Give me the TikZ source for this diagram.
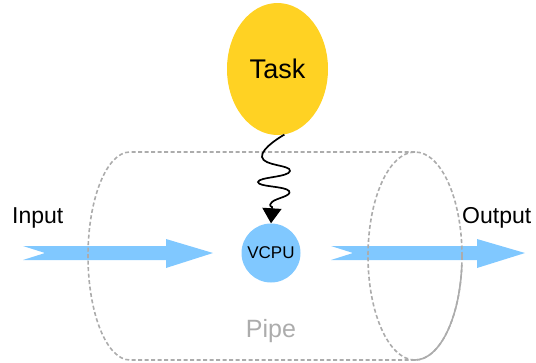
\documentclass[tikz,border=0pt]{standalone}
\usepackage{fontspec}
\setmainfont{Liberation Sans}
\usetikzlibrary{arrows.meta,shapes.geometric}
\definecolor{taskyellow}{RGB}{255,210,35}
\definecolor{flowblue}{RGB}{128,200,255}
\definecolor{pipegray}{RGB}{172,172,172}
\tikzset{
  pipeline/.style={draw=pipegray,line width=1.6pt,dash pattern=on 4pt off 2.5pt},
  pipesolid/.style={draw=pipegray,line width=1.6pt},
  fatarrow/.style={fill=flowblue,draw=none},
  label/.style={inner sep=0pt,font=\fontsize{23}{27}\selectfont},
}
\begin{document}
\begin{tikzpicture}[x=1pt,y=-1pt]
\useasboundingbox (0,0) rectangle (536,362);
% fat arrows
\coordinate (inTail) at (23,253);
\coordinate (outTail) at (331,253);
\fill[fatarrow] (inTail) ++(0,-7) -- (166,246) -- (166,239) -- (213,253) -- (166,268) -- (166,260) -- (23,260) -- (45,253) -- cycle;
\fill[fatarrow] (outTail) ++(0,-7) -- (477,246) -- (477,239) -- (525,253) -- (477,268) -- (477,260) -- (331,260) -- (353,253) -- cycle;
% pipe
\draw[pipeline] (415,152) -- (130,152) arc[start angle=90,end angle=270,x radius=42pt,y radius=104pt] -- (415,360);
\draw[pipeline] (415,256) ellipse[x radius=47pt,y radius=104pt];
\draw[pipesolid] (415,360) arc[start angle=270,end angle=355,x radius=47pt,y radius=104pt];
% nodes
\node[ellipse,fill=taskyellow,minimum width=101pt,minimum height=132pt,inner sep=0pt,font=\fontsize{27}{31}\selectfont] (task) at (277.5,69) {Task};
\node[circle,fill=flowblue,minimum size=59pt,inner sep=0pt,font=\fontsize{17}{20}\selectfont] (vcpu) at (271,253) {VCPU};
% wavy connector
\draw[line width=1.7pt,-{Triangle[width=19pt,length=15pt]}]
  plot[smooth,tension=0.9] coordinates {(task.-84) (262,157) (290,171) (258,182) (289,191) (272,202) (272,207)} -- (vcpu.north);
% labels
\node[label,anchor=base west] (inlbl) at (12,223) {Input};
\node[label,anchor=base west] (outlbl) at (462,223) {Output};
\node[label,anchor=base,text=pipegray,font=\fontsize{25}{29}\selectfont] (pipelbl) at (271,337) {Pipe};
\end{tikzpicture}
\end{document}
